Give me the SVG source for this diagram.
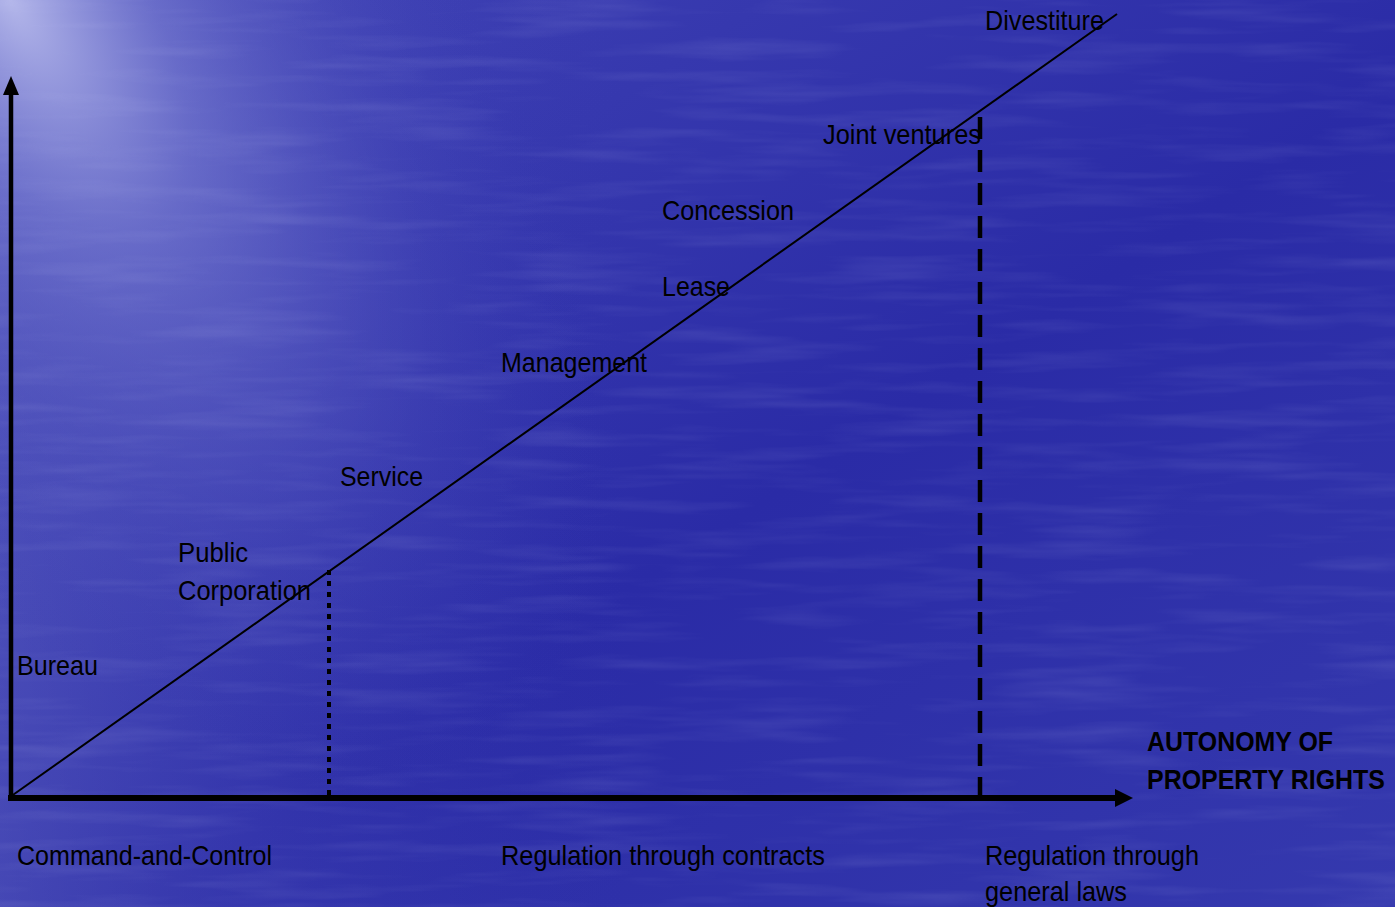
<svg xmlns="http://www.w3.org/2000/svg" width="1395" height="907" viewBox="0 0 1395 907">
  <defs>
    <radialGradient id="glow" cx="0" cy="0" r="1" gradientUnits="userSpaceOnUse" gradientTransform="translate(10,0) rotate(58) scale(900,420)">
      <stop offset="0" stop-color="#b8bbec" stop-opacity="0.95"/>
      <stop offset="0.3" stop-color="#7e82d4" stop-opacity="0.6"/>
      <stop offset="0.7" stop-color="#5558c0" stop-opacity="0.2"/>
      <stop offset="1" stop-color="#3a3db4" stop-opacity="0"/>
    </radialGradient>
    <linearGradient id="base" x1="0" y1="0" x2="1" y2="1">
      <stop offset="0" stop-color="#4245b6"/>
      <stop offset="0.55" stop-color="#2a2ba6"/>
      <stop offset="1" stop-color="#3539ae"/>
    </linearGradient>
    <linearGradient id="leftband" x1="0" y1="0" x2="1" y2="0">
      <stop offset="0" stop-color="#6a6ec8" stop-opacity="0.4"/>
      <stop offset="0.22" stop-color="#5558c0" stop-opacity="0.18"/>
      <stop offset="0.45" stop-color="#3a3db4" stop-opacity="0"/>
    </linearGradient>
    <filter id="water" x="0" y="0" width="100%" height="100%">
      <feTurbulence type="fractalNoise" baseFrequency="0.006 0.07" numOctaves="3" seed="4"/>
      <feColorMatrix type="matrix" values="0 0 0 0 0.55  0 0 0 0 0.57  0 0 0 0 0.9  1.2 0 0 0 -0.55"/>
    </filter>
    <style>
      .lbl { font-family: "Liberation Sans", Arial, sans-serif; font-size: 28px; fill: #000; }
      .bold { font-weight: bold; }
      .axis { stroke: #000; fill: none; }
    </style>
  </defs>

  <g id="background">
    <rect width="1395" height="907" fill="url(#base)"/>
    <rect width="1395" height="907" fill="url(#leftband)"/>
    <rect width="1395" height="907" fill="url(#glow)"/>
    <rect width="1395" height="907" filter="url(#water)" opacity="0.2"/>
  </g>

  <g id="connectors">
    <line class="axis" x1="11" y1="797" x2="11" y2="95" stroke-width="4.5"/>
    <path d="M3,95 L11,76 L19,95 z" fill="#000"/>
    <line class="axis" x1="8" y1="798" x2="1116" y2="798" stroke-width="6"/>
    <path d="M1115,789 L1133,798 L1115,807 z" fill="#000"/>
    <line class="axis" x1="10" y1="797" x2="1117" y2="14" stroke-width="2"/>
    <line class="axis" x1="329" y1="570" x2="329" y2="795" stroke-width="4" stroke-dasharray="5 6"/>
    <line class="axis" x1="980" y1="117" x2="980" y2="795" stroke-width="4.5" stroke-dasharray="22 11"/>
  </g>

  <g id="node-bureau"><text class="lbl" x="17" y="675" textLength="81" lengthAdjust="spacingAndGlyphs">Bureau</text></g>
  <g id="node-public-corporation">
    <text class="lbl" x="178" y="562" textLength="70" lengthAdjust="spacingAndGlyphs">Public</text>
    <text class="lbl" x="178" y="600" textLength="133" lengthAdjust="spacingAndGlyphs">Corporation</text>
  </g>
  <g id="node-service"><text class="lbl" x="340" y="486" textLength="83" lengthAdjust="spacingAndGlyphs">Service</text></g>
  <g id="node-management"><text class="lbl" x="501" y="372" textLength="146" lengthAdjust="spacingAndGlyphs">Management</text></g>
  <g id="node-lease"><text class="lbl" x="662" y="296" textLength="68" lengthAdjust="spacingAndGlyphs">Lease</text></g>
  <g id="node-concession"><text class="lbl" x="662" y="220" textLength="132" lengthAdjust="spacingAndGlyphs">Concession</text></g>
  <g id="node-joint-ventures"><text class="lbl" x="823" y="144" textLength="158" lengthAdjust="spacingAndGlyphs">Joint ventures</text></g>
  <g id="node-divestiture"><text class="lbl" x="985" y="30" textLength="119" lengthAdjust="spacingAndGlyphs">Divestiture</text></g>

  <g id="axis-label">
    <text class="lbl bold" x="1147" y="751" textLength="186" lengthAdjust="spacingAndGlyphs">AUTONOMY OF</text>
    <text class="lbl bold" x="1147" y="789" textLength="238" lengthAdjust="spacingAndGlyphs">PROPERTY RIGHTS</text>
  </g>

  <g id="node-command">
    <text class="lbl" x="17" y="865" textLength="255" lengthAdjust="spacingAndGlyphs">Command-and-Control</text>
  </g>
  <g id="node-contracts">
    <text class="lbl" x="501" y="865" textLength="324" lengthAdjust="spacingAndGlyphs">Regulation through contracts</text>
  </g>
  <g id="node-general-laws">
    <text class="lbl" x="985" y="865" textLength="214" lengthAdjust="spacingAndGlyphs">Regulation through</text>
    <text class="lbl" x="985" y="901" textLength="142" lengthAdjust="spacingAndGlyphs">general laws</text>
  </g>
</svg>
